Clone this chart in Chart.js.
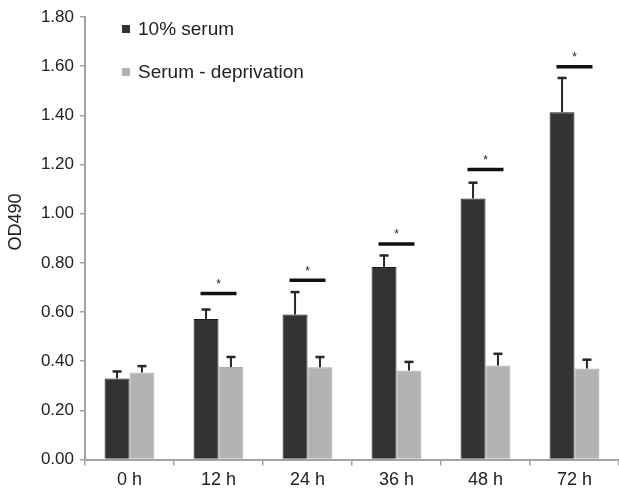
<!DOCTYPE html>
<html>
<head>
<meta charset="utf-8">
<script src="https://cdn.jsdelivr.net/npm/chart.js@4.4.1/dist/chart.umd.min.js"></script>
<style>
  html, body { margin: 0; padding: 0; background: #fff; }
  #wrap { width: 619px; height: 490px; }
</style>
</head>
<body>
<div id="wrap"><canvas id="odchart"></canvas></div>
<script>
// data
var timeLabels = ['0 h', '12 h', '24 h', '36 h', '48 h', '72 h'];
var serumValues = [0.33, 0.572, 0.59, 0.783, 1.062, 1.413];
var serumErrors = [0.028, 0.038, 0.091, 0.047, 0.064, 0.139];
var deprivedValues = [0.354, 0.376, 0.375, 0.362, 0.382, 0.37];
var deprivedErrors = [0.026, 0.041, 0.042, 0.035, 0.048, 0.036];
var sigLevels = [null, 0.675, 0.729, 0.877, 1.18, 1.598]; // height of the * bars
var yTicks = [0, 0.2, 0.4, 0.6, 0.8, 1.0, 1.2, 1.4, 1.6, 1.8];
var yTitle = 'OD490';

var fontFam = '"Liberation Sans", Arial, sans-serif';
var axisGray = '#a3a3a3';

// draws the error bars, the significance lines, the legend and the y title
var extrasPlugin = {
  id: 'extras',
  afterDatasetsDraw: function(chart) {
    var ctx = chart.ctx;
    var yScale = chart.scales.y;
    var errs = [serumErrors, deprivedErrors];
    ctx.save();
    for (var d = 0; d < chart.data.datasets.length; d++) {
      var meta = chart.getDatasetMeta(d);
      var vals = chart.data.datasets[d].data;
      for (var i = 0; i < vals.length; i++) {
        var x = meta.data[i].x;
        var yTop = yScale.getPixelForValue(vals[i]);
        var yErr = yScale.getPixelForValue(vals[i] + errs[d][i]);
        ctx.strokeStyle = '#262626';
        ctx.lineWidth = 2;
        ctx.beginPath();
        ctx.moveTo(x, yTop);
        ctx.lineTo(x, yErr);
        ctx.stroke();
        ctx.lineWidth = 2.5;
        ctx.beginPath();
        ctx.moveTo(x - 4.5, yErr);
        ctx.lineTo(x + 4.5, yErr);
        ctx.stroke();
      }
    }
    // significance lines with stars
    var xScale = chart.scales.x;
    for (var k = 0; k < sigLevels.length; k++) {
      if (sigLevels[k] === null) continue;
      var cx = xScale.getPixelForValue(k);
      var sy = yScale.getPixelForValue(sigLevels[k]);
      ctx.strokeStyle = '#111';
      ctx.lineWidth = 3.5;
      ctx.beginPath();
      ctx.moveTo(cx - 18, sy);
      ctx.lineTo(cx + 18, sy);
      ctx.stroke();
      ctx.fillStyle = '#222';
      ctx.font = '12px ' + fontFam;
      ctx.textAlign = 'center';
      ctx.textBaseline = 'middle';
      ctx.fillText('*', cx, sy - 9);
    }
    // legend in the top left of the plot
    var lx = chart.chartArea.left + 37;
    var rows = [29, 72];
    ctx.font = '19px ' + fontFam;
    ctx.textAlign = 'left';
    ctx.textBaseline = 'middle';
    for (var r = 0; r < chart.data.datasets.length; r++) {
      ctx.fillStyle = chart.data.datasets[r].backgroundColor;
      ctx.fillRect(lx, rows[r] - 4, 8, 8);
      ctx.fillStyle = '#222';
      ctx.fillText(chart.data.datasets[r].label, lx + 16, rows[r] + 1);
    }
    // rotated axis title, sits a bit above the middle like the original
    ctx.translate(16, 222);
    ctx.rotate(-Math.PI / 2);
    ctx.font = '18px ' + fontFam;
    ctx.textAlign = 'center';
    ctx.fillText(yTitle, 0, 0);
    ctx.restore();
  }
};

var ctx = document.getElementById('odchart').getContext('2d');
var chart = new Chart(ctx, {
  type: 'bar',
  data: {
    labels: timeLabels,
    datasets: [
      {
        label: '10% serum',
        data: serumValues,
        backgroundColor: '#333333',
        borderColor: '#1e1e1e',
        borderWidth: 1
      },
      {
        label: 'Serum - deprivation',
        data: deprivedValues,
        backgroundColor: '#b3b3b3',
        borderColor: '#acacac',
        borderWidth: 1
      }
    ]
  },
  options: {
    responsive: true,
    maintainAspectRatio: false,
    animation: false,
    layout: { padding: { top: 17, right: 0, bottom: 0, left: 0 } },
    datasets: { bar: { categoryPercentage: 0.56, barPercentage: 1 } },
    plugins: {
      legend: { display: false },
      tooltip: { enabled: false }
    },
    scales: {
      x: {
        afterFit: function(s) { s.height = 30.5; },
        grid: { drawOnChartArea: false, drawTicks: true, tickLength: 6, color: axisGray, lineWidth: 1.5 },
        border: { color: axisGray, width: 2 },
        ticks: { color: '#222', padding: 4, font: { size: 18, family: fontFam } }
      },
      y: {
        min: 0,
        max: 1.8,
        afterFit: function(s) { s.width = 85; },
        afterBuildTicks: function(s) {
          s.ticks = yTicks.map(function(v) { return { value: v }; });
        },
        grid: { drawOnChartArea: false, drawTicks: true, tickLength: 5, color: axisGray, lineWidth: 1.5 },
        border: { color: axisGray, width: 2 },
        ticks: {
          color: '#222',
          padding: 6,
          font: { size: 17, family: fontFam },
          callback: function(v) { return Number(v).toFixed(2); }
        }
      }
    }
  },
  plugins: [extrasPlugin]
});
</script>
</body>
</html>
